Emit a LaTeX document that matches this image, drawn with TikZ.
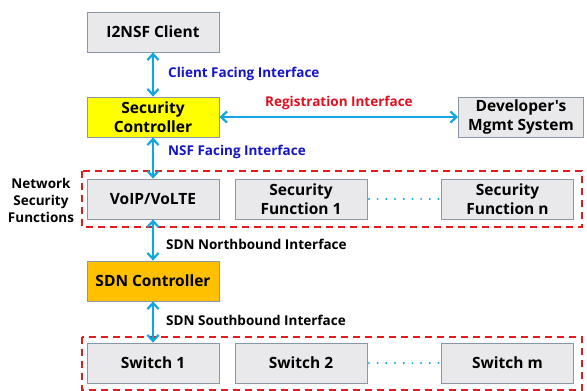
\documentclass[tikz,border=0pt]{standalone}
\usepackage{fontspec}
\setmainfont{Open Sans}[Ligatures=TeXOff]
\usetikzlibrary{arrows.meta}
\definecolor{boxfill}{HTML}{E9E9EC}
\definecolor{boxline}{HTML}{8A97A6}
\definecolor{arrowc}{HTML}{12A5E2}
\definecolor{lblblue}{HTML}{1414C8}
\definecolor{lblred}{HTML}{E01020}
\definecolor{dashred}{HTML}{E31B1B}
\definecolor{ctrlyellow}{HTML}{FFFF00}
\definecolor{ctrlorange}{HTML}{FFC000}
\tikzset{
  blk/.style={draw=boxline, line width=0.8pt, fill=boxfill, minimum width=132pt, minimum height=40pt, inner sep=1pt, align=center, font=\fontsize{15.5}{18.5}\selectfont\bfseries},
  conn/.style={draw=arrowc, line width=2.2pt, {Straight Barb[length=6pt,width=11pt]}-{Straight Barb[length=6pt,width=11pt]}},
  lbl/.style={anchor=west, inner sep=0pt, font=\fontsize{13.5}{15}\selectfont\bfseries},
  group/.style={draw=dashred, line width=1.8pt, dash pattern=on 7pt off 5pt},
  dots/.style={draw=arrowc, line width=2.2pt, line cap=round, dash pattern=on 0pt off 8.7pt}
}
\begin{document}
\begin{tikzpicture}[x=1pt,y=-1pt]
\useasboundingbox (0,0) rectangle (587,391);
\fill[white] (0,0) rectangle (587,391);
% groups
\draw[group] (82,171) rectangle (582,227);
\draw[group] (82,337) rectangle (582,390);
% nodes
\node[blk] (client) at (153,32) {I2NSF Client};
\node[blk, fill=ctrlyellow] (sc) at (153,117) {Security\\Controller};
\node[blk, minimum width=125pt] (dev) at (521,117) {Developer's\\Mgmt System};
\node[blk] (voip) at (153,199) {VoIP/VoLTE};
\node[blk] (sf1) at (301,199) {Security\\Function 1};
\node[blk] (sfn) at (507.5,199) {Security\\Function n};
\node[blk, fill=ctrlorange] (sdn) at (153,281) {SDN Controller};
\node[blk] (sw1) at (153,363) {Switch 1};
\node[blk] (sw2) at (301,363) {Switch 2};
\node[blk] (swm) at (507.5,363) {Switch m};
% connectors
\draw[conn] (client.south) -- (sc.north);
\draw[conn] (sc.east) -- (dev.west);
\draw[conn] (sc.south) -- (voip.north);
\draw[conn] (voip.south) -- (sdn.north);
\draw[conn] (sdn.south) -- (sw1.north);
\draw[dots] ([xshift=1.5pt]sf1.east) -- ([xshift=-1pt]sfn.west);
\draw[dots] ([xshift=1.5pt]sw2.east) -- ([xshift=-1pt]swm.west);
% labels
\node[lbl, text=lblblue] (cfi) at (168,74) {Client Facing Interface};
\node[lbl, text=lblred] (ri) at (265,103) {Registration Interface};
\node[lbl, text=lblblue] (nfi) at (168,152) {NSF Facing Interface};
\node[lbl] (nbi) at (166,244) {SDN Northbound Interface};
\node[lbl] (sbi) at (166,320) {SDN Southbound Interface};
\node[font=\fontsize{13.5}{17}\selectfont\bfseries, align=center, inner sep=0pt] (nsf) at (41,200) {Network\\Security\\Functions};
\end{tikzpicture}
\end{document}
